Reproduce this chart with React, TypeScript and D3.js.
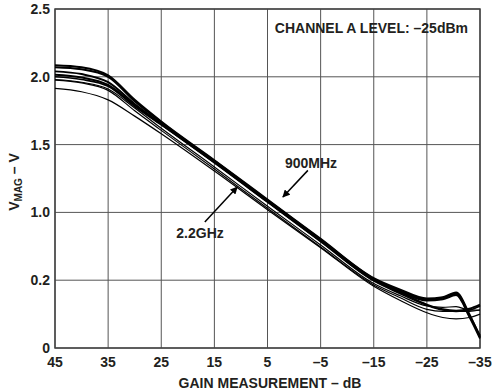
import React from "react";
import * as d3 from "d3";

const xTicks = [45, 35, 25, 15, 5, -5, -15, -25, -35];
const xTickLabels = ["45", "35", "25", "15", "5", "–5", "–15", "–25", "–35"];
const yTicks = [0, 0.5, 1.0, 1.5, 2.0, 2.5];
const yTickLabels = ["0", "0.2", "1.0", "1.5", "2.0", "2.5"];

const gainDb = [45, 40, 35, 30, 25, 15, 5, -5, -15, -20, -25, -28, -30.5, -33, -35];

const curveA = [2.085, 2.07, 2.01, 1.83, 1.67, 1.385, 1.095, 0.805, 0.515, 0.43, 0.365, 0.375, 0.41, 0.25, 0.08];
const curveB = [2.07, 2.055, 2.0, 1.82, 1.665, 1.38, 1.09, 0.8, 0.51, 0.42, 0.355, 0.37, 0.4, 0.24, 0.09];
const curveC = [2.04, 2.02, 1.96, 1.8, 1.655, 1.375, 1.085, 0.795, 0.505, 0.415, 0.35, 0.36, 0.39, 0.23, 0.07];
const curveD = [2.015, 1.995, 1.94, 1.79, 1.65, 1.37, 1.08, 0.79, 0.5, 0.41, 0.32, 0.285, 0.275, 0.29, 0.32];
const curveE = [2.0, 1.98, 1.93, 1.78, 1.645, 1.365, 1.075, 0.785, 0.495, 0.4, 0.315, 0.28, 0.27, 0.28, 0.31];
const curveF = [1.98, 1.96, 1.91, 1.77, 1.62, 1.335, 1.045, 0.76, 0.475, 0.385, 0.31, 0.3, 0.305, 0.28, 0.28];
const curveG = [1.975, 1.955, 1.9, 1.75, 1.605, 1.32, 1.03, 0.745, 0.465, 0.37, 0.285, 0.27, 0.27, 0.27, 0.28];
const curveH = [1.915, 1.89, 1.83, 1.71, 1.58, 1.305, 1.02, 0.74, 0.455, 0.35, 0.26, 0.225, 0.215, 0.225, 0.25];

const seriesList = [curveA, curveB, curveC, curveD, curveE, curveF, curveG, curveH];
const seriesWidths = [2, 2, 2, 2, 1.6, 1.2, 1.2, 1.2];

const annotations = [
  { text: "900MHz", tx: -3.2, ty: 1.327, x0: -2.6, y0: 1.31, x1: 2.1, y1: 1.114 },
  { text: "2.2GHz", tx: 17.7, ty: 0.811, x0: 16.8, y0: 0.929, x1: 10.7, y1: 1.187 },
];

const W = 500;
const H = 391;
const margin = { left: 55, right: 20, top: 9, bottom: 43 };
const FONT = "'Liberation Sans', Arial, Helvetica, sans-serif";
const TXT = "#231f20";

export default function App() {
  const x = d3.scaleLinear().domain([45, -35]).range([margin.left, W - margin.right]);
  const y = d3.scaleLinear().domain([0, 2.5]).range([H - margin.bottom, margin.top]);
  const line = d3
    .line<number>()
    .x((_, i) => x(gainDb[i]))
    .y((d) => y(d))
    .curve(d3.curveMonotoneX);

  const gridX = d3.range(45, -36, -10);
  return (
    <svg
      width={W}
      height={H}
      style={{ position: "absolute", left: 0, top: 0, background: "#fff" }}
      fontFamily={FONT}
    >
      <defs>
        <marker id="arrow" viewBox="0 0 10 10" refX="9" refY="5" markerWidth="5.5" markerHeight="5" orient="auto">
          <path d="M0,0 L10,5 L0,10 Z" fill="#000" />
        </marker>
      </defs>
      {gridX.map((v) => (
        <line key={"gx" + v} x1={x(v)} x2={x(v)} y1={y(0)} y2={y(2.5)} stroke="#555" strokeWidth={1} />
      ))}
      {yTicks.map((v) => (
        <line key={"gy" + v} x1={x(45)} x2={x(-35)} y1={y(v)} y2={y(v)} stroke="#555" strokeWidth={1} />
      ))}
      <rect
        x={x(45)}
        y={y(2.5)}
        width={x(-35) - x(45)}
        height={y(0) - y(2.5)}
        fill="none"
        stroke="#444"
        strokeWidth={1.5}
      />
      {seriesList.map((s, i) => (
        <path key={"s" + i} d={line(s) || ""} fill="none" stroke="#000" strokeWidth={seriesWidths[i]} strokeLinejoin="miter" />
      ))}
      {annotations.map((a, i) => (
        <g key={"a" + i}>
          <line
            x1={x(a.x0)}
            y1={y(a.y0)}
            x2={x(a.x1)}
            y2={y(a.y1)}
            stroke="#000"
            strokeWidth={1.5}
            markerEnd="url(#arrow)"
          />
          <text x={x(a.tx)} y={y(a.ty)} textAnchor="middle" fontSize={14} fontWeight="bold" fill={TXT}>
            {a.text}
          </text>
        </g>
      ))}
      <text x={468} y={33} textAnchor="end" fontSize={14} fontWeight="bold" fill={TXT}>
        CHANNEL A LEVEL: –25dBm
      </text>
      {xTicks.map((v, i) => (
        <text key={"xt" + v} x={x(v)} y={367} textAnchor="middle" fontSize={14} fontWeight="bold" fill={TXT}>
          {xTickLabels[i]}
        </text>
      ))}
      {yTicks.map((v, i) => (
        <text key={"yt" + v} x={50} y={y(v) + 5} textAnchor="end" fontSize={14} fontWeight="bold" fill={TXT}>
          {yTickLabels[i]}
        </text>
      ))}
      <text x={270} y={388} textAnchor="middle" fontSize={14} fontWeight="bold" fill={TXT}>
        GAIN MEASUREMENT – dB
      </text>
      <text transform="translate(19,182) rotate(-90)" textAnchor="middle" fontSize={14} fontWeight="bold" fill={TXT}>
        V<tspan fontSize={10} dy={3}>MAG</tspan>
        <tspan dy={-3}> – V</tspan>
      </text>
    </svg>
  );
}
